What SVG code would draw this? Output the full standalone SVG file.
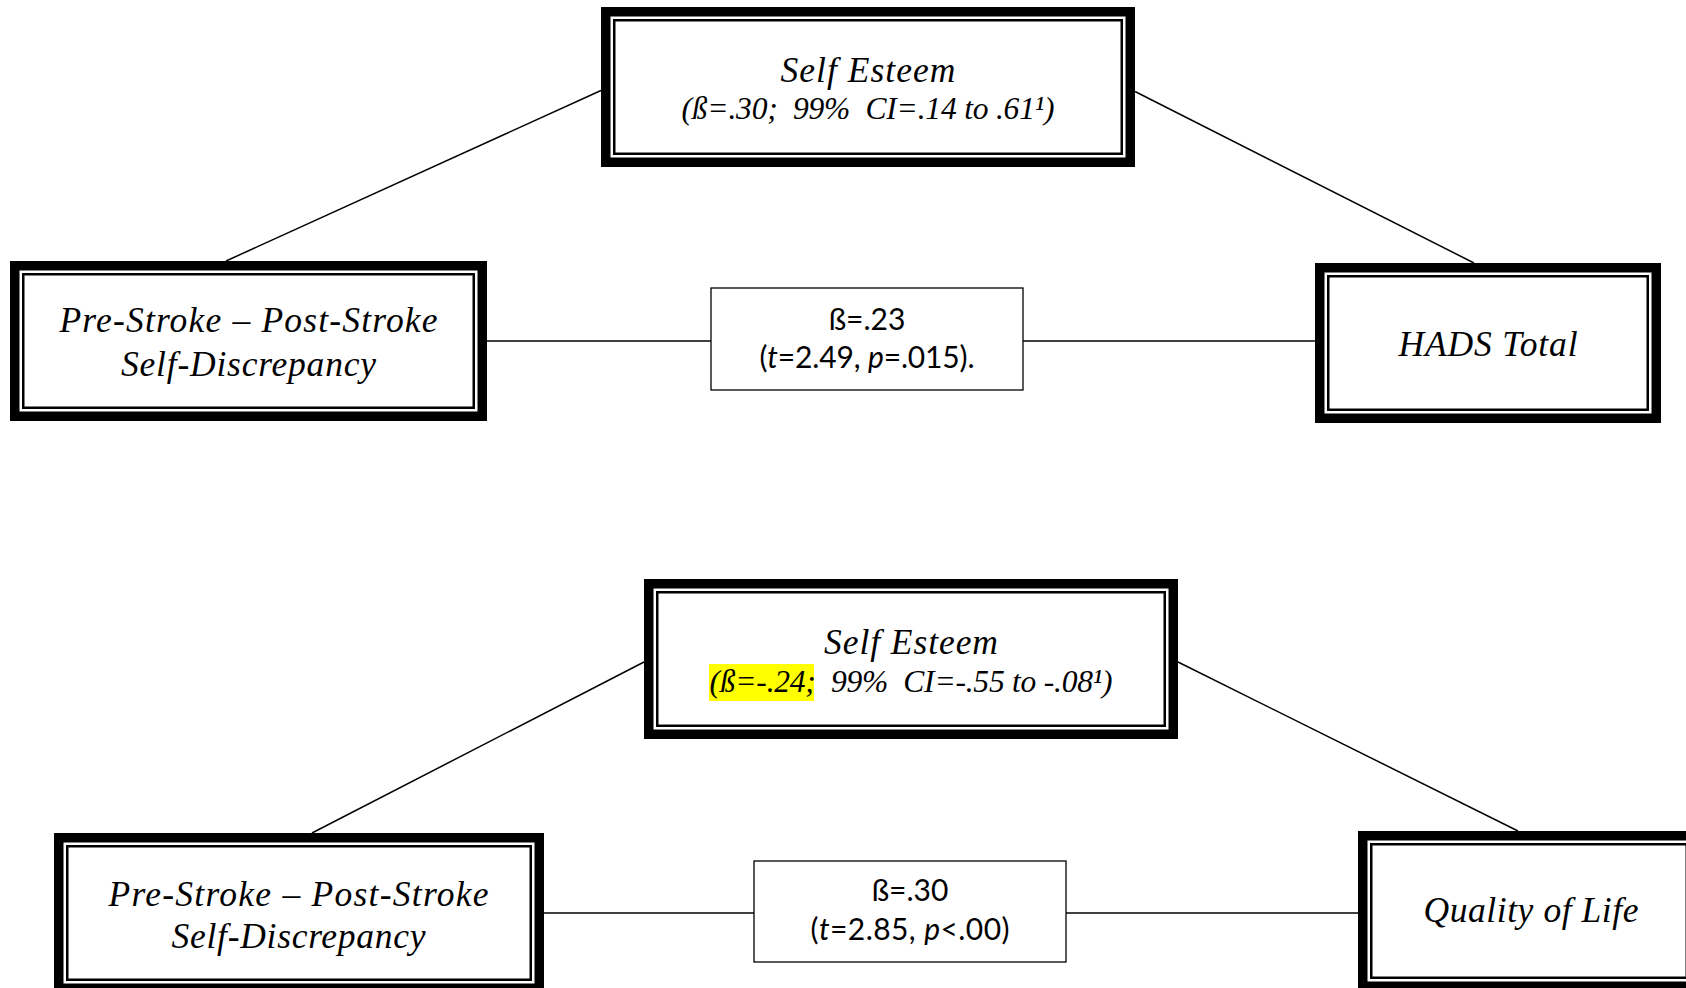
<svg xmlns="http://www.w3.org/2000/svg" width="1686" height="988" viewBox="0 0 1686 988">
<style>
.thick{fill:#fff;stroke:#000;stroke-width:9.5}
.thin{fill:none;stroke:#000;stroke-width:2.5}
.lbl{fill:#fff;stroke:#000;stroke-width:1.3}
.conn line{stroke:#000;stroke-width:1.5}
.ser{font-family:"Liberation Serif","DejaVu Serif",serif;font-style:italic;font-size:35.5px;fill:#000;text-anchor:middle}
.sm{font-size:31.5px}
.san{font-family:Lato,"Liberation Sans",sans-serif;font-size:30px;fill:#000;text-anchor:middle}
.it{font-style:italic}
</style>
<rect width="1686" height="988" fill="#fff"/>
<g class="conn" id="connectors">
<line x1="226" y1="261" x2="601" y2="90.5"/>
<line x1="1135" y1="91.5" x2="1474" y2="263"/>
<line x1="487" y1="341" x2="711" y2="341"/>
<line x1="1023" y1="341" x2="1315" y2="341"/>
<line x1="312" y1="833" x2="644" y2="662"/>
<line x1="1178" y1="662" x2="1518" y2="831"/>
<line x1="544" y1="913" x2="754" y2="913"/>
<line x1="1066" y1="913" x2="1358" y2="913"/>
</g>
<g id="self-esteem-1">
<rect class="thick" x="605.75" y="11.75" width="524.5" height="150.5"/>
<rect class="thin" x="614.25" y="20.25" width="507.5" height="133.5"/>
<text class="ser" x="868" y="82" textLength="175" lengthAdjust="spacing">Self Esteem</text>
<text class="ser sm" x="868" y="119" xml:space="preserve" textLength="373" lengthAdjust="spacing">(ß=.30;  99%  CI=.14 to .61¹)</text>
</g>
<g id="discrepancy-1">
<rect class="thick" x="14.75" y="265.75" width="467.5" height="150.5"/>
<rect class="thin" x="23.25" y="274.25" width="450.5" height="133.5"/>
<text class="ser" x="248.5" y="332" textLength="378" lengthAdjust="spacing">Pre-Stroke – Post-Stroke</text>
<text class="ser" x="248.5" y="376" textLength="255" lengthAdjust="spacing">Self-Discrepancy</text>
</g>
<g id="hads">
<rect class="thick" x="1319.75" y="267.75" width="336.5" height="150.5"/>
<rect class="thin" x="1328.25" y="276.25" width="319.5" height="133.5"/>
<text class="ser" x="1488" y="356" textLength="179" lengthAdjust="spacing">HADS Total</text>
</g>
<g id="effect-1">
<rect class="lbl" x="711" y="288" width="312" height="102"/>
<text class="san" x="867" y="330">ß=.23</text>
<text class="san" x="867" y="367.5" textLength="215" lengthAdjust="spacing">(<tspan class="it">t</tspan>=2.49, <tspan class="it">p</tspan>=.015).</text>
</g>
<g id="self-esteem-2">
<rect class="thick" x="648.75" y="583.75" width="524.5" height="150.5"/>
<rect class="thin" x="657.25" y="592.25" width="507.5" height="133.5"/>
<rect x="709" y="664" width="105" height="37" fill="#ffff00"/>
<text class="ser" x="911" y="654" textLength="174" lengthAdjust="spacing">Self Esteem</text>
<text class="ser sm" x="911" y="692" xml:space="preserve" textLength="403" lengthAdjust="spacing">(ß=-.24;  99%  CI=-.55 to -.08¹)</text>
</g>
<g id="discrepancy-2">
<rect class="thick" x="58.75" y="837.75" width="480.5" height="150.5"/>
<rect class="thin" x="67.25" y="846.25" width="463.5" height="133.5"/>
<text class="ser" x="298.5" y="905.5" textLength="380" lengthAdjust="spacing">Pre-Stroke – Post-Stroke</text>
<text class="ser" x="298.5" y="947.5" textLength="254" lengthAdjust="spacing">Self-Discrepancy</text>
</g>
<g id="quality-of-life">
<rect class="thick" x="1362.75" y="835.75" width="332.5" height="150.5"/>
<rect class="thin" x="1371.25" y="844.25" width="315.5" height="133.5"/>
<text class="ser" x="1531" y="922" textLength="215" lengthAdjust="spacing">Quality of Life</text>
</g>
<g id="effect-2">
<rect class="lbl" x="754" y="861" width="312" height="101"/>
<text class="san" x="910" y="901">ß=.30</text>
<text class="san" x="910" y="940" textLength="199" lengthAdjust="spacing">(<tspan class="it">t</tspan>=2.85, <tspan class="it">p</tspan>&lt;.00)</text>
</g>
</svg>
